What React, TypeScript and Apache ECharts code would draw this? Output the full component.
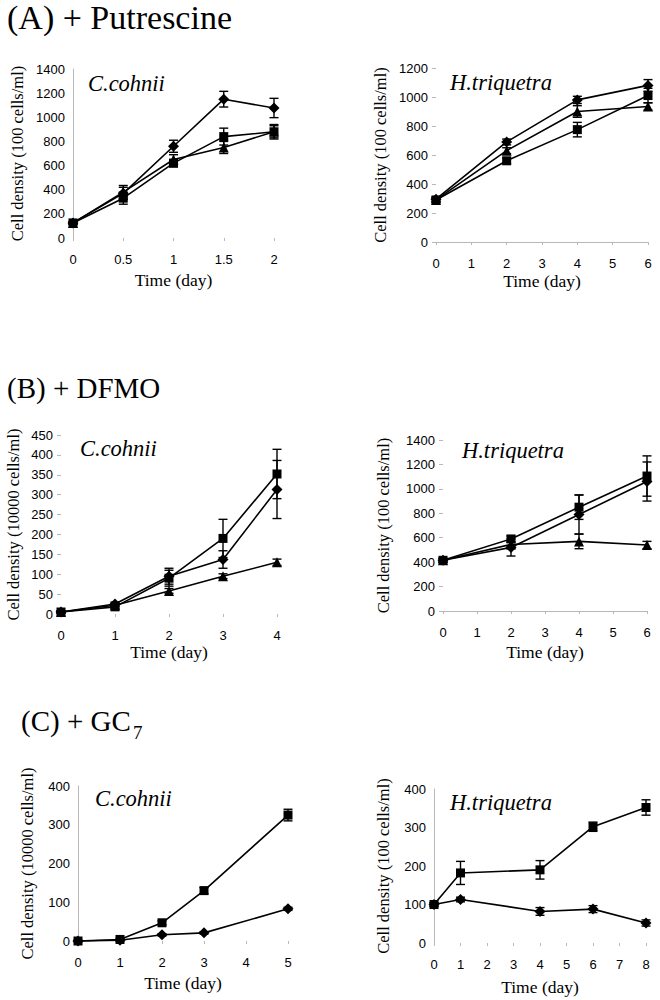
import React, { useEffect, useRef } from "react";
import * as echarts from "echarts";

// ---- Data ----
// (A) + Putrescine, C.cohnii
const aLeftDays = [0, 0.5, 1, 1.5, 2];
const aLeftDiamond = [125, 370, 760, 1150, 1077];
const aLeftDiamondErr = [10, 50, 50, 65, 80];
const aLeftSquare = [125, 330, 620, 840, 880];
const aLeftSquareErr = [10, 50, 30, 70, 60];
const aLeftTriangle = [125, 380, 650, 750, 880];
const aLeftTriangleErr = [10, 55, 40, 50, 50];

// (A) + Putrescine, H.triquetra
const aRightDays = [0, 2, 4, 6];
const aRightDiamond = [295, 690, 980, 1080];
const aRightDiamondErr = [15, 20, 25, 40];
const aRightTriangle = [290, 630, 900, 935];
const aRightTriangleErr = [15, 20, 40, 25];
const aRightSquare = [290, 560, 775, 1010];
const aRightSquareErr = [15, 20, 50, 50];

// (B) + DFMO, C.cohnii
const bLeftDays = [0, 1, 2, 3, 4];
const bLeftSquare = [5, 18, 90, 190, 352];
const bLeftSquareErr = [3, 5, 20, 48, 62];
const bLeftDiamond = [5, 25, 95, 137, 313];
const bLeftDiamondErr = [3, 5, 20, 22, 73];
const bLeftTriangle = [5, 22, 58, 95, 130];
const bLeftTriangleErr = [2, 4, 6, 6, 8];

// (B) + DFMO, H.triquetra
const bRightDays = [0, 2, 4, 6];
const bRightSquare = [415, 590, 850, 1105];
const bRightSquareErr = [15, 25, 100, 165];
const bRightDiamond = [415, 520, 790, 1060];
const bRightDiamondErr = [15, 70, 160, 160];
const bRightTriangle = [415, 545, 570, 540];
const bRightTriangleErr = [15, 20, 60, 30];

// (C) + GC7, C.cohnii
const cLeftDays = [0, 1, 2, 3, 5];
const cLeftSquare = [0, 4, 47, 130, 325];
const cLeftSquareErr = [2, 3, 5, 8, 15];
const cLeftDiamond = [0, 2, 16, 21, 83];
const cLeftDiamondErr = [1, 1, 3, 3, 4];

// (C) + GC7, H.triquetra
const cRightDays = [0, 1, 4, 6, 8];
const cRightSquare = [100, 182, 190, 302, 352];
const cRightSquareErr = [5, 30, 24, 12, 20];
const cRightDiamond = [100, 113, 82, 88, 52];
const cRightDiamondErr = [5, 6, 10, 9, 8];

// Axis scales
const xMax = [2, 6, 4, 6, 5, 8];
const xStep = [0.5, 1, 1, 1, 1, 1];
const yMax = [1400, 1200, 450, 1400, 400, 400];
const yStep = [200, 200, 50, 200, 100, 100];

// Texts
const headings = ["(A) + Putrescine", "(B) + DFMO", "(C) + GC", "7"];
const speciesNames = ["C.cohnii", "H.triquetra", "C.cohnii", "H.triquetra", "C.cohnii", "H.triquetra"];
const yNames = [
  "Cell density (100 cells/ml)",
  "Cell density (100 cells/ml)",
  "Cell density (10000 cells/ml)",
  "Cell density (100 cells/ml)",
  "Cell density (10000 cells/ml)",
  "Cell density (100 cells/ml)",
];
const xName = "Time (day)";

type S = { days: number[]; values: number[]; err: number[]; symbol: string };
const panelSeries: S[][] = [
  [
    { days: aLeftDays, values: aLeftDiamond, err: aLeftDiamondErr, symbol: "diamond" },
    { days: aLeftDays, values: aLeftSquare, err: aLeftSquareErr, symbol: "rect" },
    { days: aLeftDays, values: aLeftTriangle, err: aLeftTriangleErr, symbol: "triangle" },
  ],
  [
    { days: aRightDays, values: aRightDiamond, err: aRightDiamondErr, symbol: "diamond" },
    { days: aRightDays, values: aRightTriangle, err: aRightTriangleErr, symbol: "triangle" },
    { days: aRightDays, values: aRightSquare, err: aRightSquareErr, symbol: "rect" },
  ],
  [
    { days: bLeftDays, values: bLeftSquare, err: bLeftSquareErr, symbol: "rect" },
    { days: bLeftDays, values: bLeftDiamond, err: bLeftDiamondErr, symbol: "diamond" },
    { days: bLeftDays, values: bLeftTriangle, err: bLeftTriangleErr, symbol: "triangle" },
  ],
  [
    { days: bRightDays, values: bRightSquare, err: bRightSquareErr, symbol: "rect" },
    { days: bRightDays, values: bRightDiamond, err: bRightDiamondErr, symbol: "diamond" },
    { days: bRightDays, values: bRightTriangle, err: bRightTriangleErr, symbol: "triangle" },
  ],
  [
    { days: cLeftDays, values: cLeftSquare, err: cLeftSquareErr, symbol: "rect" },
    { days: cLeftDays, values: cLeftDiamond, err: cLeftDiamondErr, symbol: "diamond" },
  ],
  [
    { days: cRightDays, values: cRightSquare, err: cRightSquareErr, symbol: "rect" },
    { days: cRightDays, values: cRightDiamond, err: cRightDiamondErr, symbol: "diamond" },
  ],
];

// ---- Layout (positions/styles) ----
const grids = [
  { left: 73, top: 69, width: 201, height: 169 },
  { left: 436, top: 68, width: 212, height: 174 },
  { left: 61, top: 435, width: 216, height: 179 },
  { left: 443, top: 440, width: 204, height: 171 },
  { left: 78, top: 786, width: 210, height: 155 },
  { left: 434, top: 789, width: 212, height: 154 },
];
const xNameGap = [33, 30, 29, 32, 33, 35];
const yNameGap = [47, 47, 39, 51, 42, 42];
const showYLine = [true, false, false, false, true, true];
const showXLine = [false, true, false, true, false, false];
const speciesPos = [
  [88, 83],
  [450, 82],
  [80, 448],
  [462, 450],
  [95, 798],
  [450, 802],
];

const AXIS_GRAY = "#b8b8b8";
const SANS = "'Liberation Sans', Arial, sans-serif";
const SERIF = "'Liberation Serif', 'Times New Roman', serif";

function errorRender(params: any, api: any) {
  const x = api.value(0);
  const lo = api.coord([x, api.value(1)]);
  const hi = api.coord([x, api.value(2)]);
  const w = 4.5;
  const st = { stroke: "#000", lineWidth: 1.4 };
  return {
    type: "group",
    children: [
      { type: "line", shape: { x1: lo[0], y1: lo[1], x2: hi[0], y2: hi[1] }, style: st },
      { type: "line", shape: { x1: lo[0] - w, y1: lo[1], x2: lo[0] + w, y2: lo[1] }, style: st },
      { type: "line", shape: { x1: hi[0] - w, y1: hi[1], x2: hi[0] + w, y2: hi[1] }, style: st },
    ],
  };
}

function buildOption() {
  const xAxis: any[] = [];
  const yAxis: any[] = [];
  const series: any[] = [];
  grids.forEach((g, i) => {
    xAxis.push({
      type: "value",
      gridIndex: i,
      min: 0,
      max: xMax[i],
      interval: xStep[i],
      name: xName,
      nameLocation: "middle",
      nameGap: xNameGap[i],
      nameTextStyle: { fontFamily: SERIF, fontSize: 17.5, color: "#000" },
      axisLine: { show: showXLine[i], lineStyle: { color: AXIS_GRAY, width: 1 } },
      axisTick: { show: true, length: 3, lineStyle: { color: AXIS_GRAY } },
      axisLabel: {
        fontFamily: SANS,
        fontSize: 13,
        color: "#000",
        margin: 15,
        formatter: (v: number) => String(v),
      },
      splitLine: { show: false },
    });
    yAxis.push({
      type: "value",
      gridIndex: i,
      min: 0,
      max: yMax[i],
      interval: yStep[i],
      name: yNames[i],
      nameLocation: "middle",
      nameGap: yNameGap[i],
      nameTextStyle: { fontFamily: SERIF, fontSize: 16.5, color: "#000" },
      axisLine: { show: showYLine[i], lineStyle: { color: AXIS_GRAY, width: 1 } },
      axisTick: { show: !showYLine[i], length: 4, lineStyle: { color: AXIS_GRAY } },
      axisLabel: {
        fontFamily: SANS,
        fontSize: 13,
        color: "#000",
        margin: 8,
        formatter: (v: number) => String(v),
      },
      splitLine: { show: false },
    });
    panelSeries[i].forEach((s) => {
      series.push({
        type: "custom",
        xAxisIndex: i,
        yAxisIndex: i,
        renderItem: errorRender,
        clip: false,
        z: 2,
        data: s.days.map((d, k) => [d, s.values[k] - s.err[k], s.values[k] + s.err[k]]),
      });
      series.push({
        type: "line",
        xAxisIndex: i,
        yAxisIndex: i,
        symbol: s.symbol,
        symbolSize: s.symbol === "rect" ? 9 : s.symbol === "triangle" ? 10 : 11,
        showSymbol: true,
        clip: false,
        z: 3,
        lineStyle: { color: "#000", width: 1.6 },
        itemStyle: { color: "#000", borderWidth: 0 },
        data: s.days.map((d, k) => [d, s.values[k]]),
      });
    });
  });

  const graphic: any[] = [
    { type: "text", left: 7, top: 0, style: { text: headings[0], font: `34px ${SERIF}`, fill: "#000" } },
    { type: "text", left: 7, top: 373, style: { text: headings[1], font: `29px ${SERIF}`, fill: "#000" } },
    { type: "text", left: 21, top: 706, style: { text: headings[2], font: `29px ${SERIF}`, fill: "#000" } },
    { type: "text", left: 133, top: 723, style: { text: headings[3], font: `19px ${SERIF}`, fill: "#000" } },
  ];
  speciesNames.forEach((n, i) => {
    graphic.push({
      type: "text",
      x: speciesPos[i][0],
      y: speciesPos[i][1],
      style: {
        text: n,
        font: `italic 22.5px ${SERIF}`,
        fill: "#000",
        textVerticalAlign: "middle",
        verticalAlign: "middle",
      },
    });
  });

  return {
    animation: false,
    backgroundColor: "#fff",
    grid: grids.map((g) => ({ ...g, containLabel: false })),
    xAxis,
    yAxis,
    series,
    graphic,
  };
}

export default function App() {
  const ref = useRef<HTMLDivElement>(null);
  useEffect(() => {
    if (!ref.current) return;
    const chart = echarts.init(ref.current, null, { renderer: "svg" });
    chart.setOption(buildOption() as any);
    return () => chart.dispose();
  }, []);
  return (
    <div
      ref={ref}
      style={{ position: "absolute", left: 0, top: 0, width: 660, height: 1000, background: "#fff" }}
    />
  );
}
